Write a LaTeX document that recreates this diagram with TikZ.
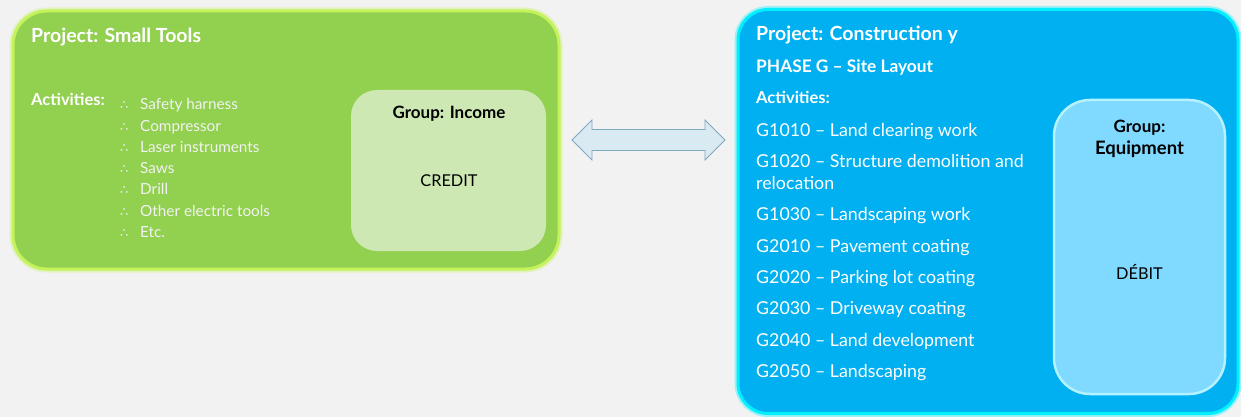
\documentclass[tikz,border=0pt]{standalone}
\usepackage{fontspec}
\setmainfont{Lato}
\newfontfamily\symfont{DejaVu Sans}
\usetikzlibrary{calc}
\definecolor{bg}{HTML}{F2F2F2}
\definecolor{greenfill}{HTML}{92D050}
\definecolor{greenglow}{HTML}{C4F25A}
\definecolor{greeninner}{HTML}{CEE8B4}
\definecolor{bluefill}{HTML}{00B0F0}
\definecolor{blueglow}{HTML}{00F0FF}
\definecolor{blueinner}{HTML}{80D9FF}
\definecolor{blueinnerline}{HTML}{B5F2FF}
\definecolor{arrowfill}{HTML}{D9EAF2}
\definecolor{arrowline}{HTML}{7FA9C0}
\tikzset{
  outerbox/.style={rounded corners=#1, inner sep=0pt, line width=3pt,
     preaction={draw, line width=7pt, draw opacity=0.35}},
  innerbox/.style={rounded corners=#1, inner sep=0pt},
  ttl/.style={anchor=base west, inner sep=0pt, text=white, font=\bfseries\fontsize{19.5}{22}\selectfont},
  ttlb/.style={anchor=base west, inner sep=0pt, text=white, font=\bfseries\fontsize{16.5}{19}\selectfont},
  phase/.style={anchor=base west, inner sep=0pt, text=white, font=\bfseries\fontsize{17.3}{20}\selectfont},
  litem/.style={anchor=base west, inner sep=0pt, text=white!95!black, font=\fontsize{15.3}{18}\selectfont},
  bul/.style={anchor=base west, inner sep=0pt, text=white!95!black, font=\symfont\fontsize{13}{15}\selectfont},
  ritem/.style={anchor=base west, inner sep=0pt, text=white, font=\fontsize{17.8}{21}\selectfont},
  grp/.style={anchor=base, inner sep=0pt, text=black, font=\bfseries\fontsize{17}{20}\selectfont},
  val/.style={anchor=base, inner sep=0pt, text=black, font=\fontsize{16.3}{19}\selectfont},
  dblarrow/.style={fill=arrowfill, draw=arrowline, line width=0.8pt, line join=miter}
}
\begin{document}
\begin{tikzpicture}[x=1pt,y=-1pt]
\useasboundingbox[fill=bg] (0,0) rectangle (1241,417);
% left box
\node[outerbox=34pt, fill=greenfill, draw=greenglow, minimum width=546pt, minimum height=258pt] (small) at (286,140) {};
\node[innerbox=26pt, fill=greeninner, minimum width=195pt, minimum height=161pt] (income) at (448.5,170.5) {};
\node[ttl] (ltitle) at (31,43) {Project: Small Tools};
\node[ttlb] (lact) at (31,106) {Activities:};
\foreach \t [count=\i] in {Safety harness,Compressor,Laser instruments,Saws,Drill,Other electric tools,Etc.}{
  \pgfmathsetmacro\yy{110+21.2*(\i-1)}
  \node[bul] (lb\i) at (120,\yy) {∴};
  \node[litem] (li\i) at (140,\yy) {\t};
}
\node[grp] (lgrp) at (449,118) {Group: Income};
\node[val] (lval) at (449,186) {CREDIT};
% right box
\node[outerbox=30pt, fill=bluefill, draw=blueglow, minimum width=500pt, minimum height=404pt] (constr) at (988,211.5) {};
\node[innerbox=36pt, fill=blueinner, draw=blueinnerline, line width=2.5pt, minimum width=171pt, minimum height=294pt] (equip) at (1139.5,247) {};
\node[ttl] (rtitle) at (756,41) {Project: Construction y};
\node[phase] (rphase) at (756,73) {PHASE G – Site Layout};
\node[ttlb] (ract) at (756,104) {Activities:};
\node[ritem] (r1) at (756,136) {G1010 – Land clearing work};
\node[ritem] (r2) at (756,167) {G1020 – Structure demolition and};
\node[ritem] (r2b) at (756,189) {relocation};
\node[ritem] (r3) at (756,220) {G1030 – Landscaping work};
\node[ritem] (r4) at (756,252) {G2010 – Pavement coating};
\node[ritem] (r5) at (756,283) {G2020 – Parking lot coating};
\node[ritem] (r6) at (756,314) {G2030 – Driveway coating};
\node[ritem] (r7) at (756,346) {G2040 – Land development};
\node[ritem] (r8) at (756,377) {G2050 – Landscaping};
\node[grp] (rgrp1) at (1139.5,132) {Group:};
\node[grp, font=\bfseries\fontsize{18.5}{21}\selectfont] (rgrp2) at (1139.5,154) {Equipment};
\node[val] (rval) at (1139.5,279) {DÉBIT};
% double arrow
\coordinate (aL) at (572,140);
\coordinate (aR) at (725,140);
\draw[dblarrow] (aL) -- ($(aL)+(20,-20)$) -- ($(aL)+(20,-10.5)$) -- ($(aR)+(-20,-10.5)$) -- ($(aR)+(-20,-20)$)
  -- (aR) -- ($(aR)+(-20,20)$) -- ($(aR)+(-20,10.5)$) -- ($(aL)+(20,10.5)$) -- ($(aL)+(20,20)$) -- cycle;
\end{tikzpicture}
\end{document}
